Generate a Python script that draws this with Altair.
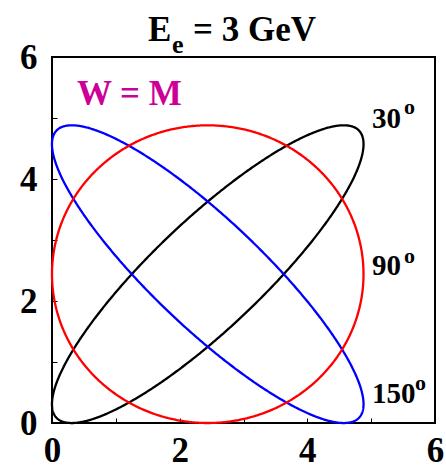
import altair as alt
import numpy as np
import pandas as pd

# Kinematic ellipses, one per angle: centre, semi-axes and tilt (degrees)
curve_names = ["30°", "150°", "90°"]
center_x = [2.44, 2.44, 2.44]
center_y = [2.44, 2.44, 2.44]
semi_major = [3.34, 3.34, 2.44]
semi_minor = [0.87, 0.87, 2.44]
tilt_deg = [45.0, -45.0, 0.0]
line_colors = ["black", "blue", "red"]

# Axis ticks every 0.5, labels on the even values
tick_values = [0, 0.5, 1, 1.5, 2, 2.5, 3, 3.5, 4, 4.5, 5, 5.5, 6]

SERIF = "Liberation Serif"


def ellipse_frame(name, cx, cy, a, b, tilt):
    t = np.linspace(0.0, 2.0 * np.pi, 721)
    th = np.deg2rad(tilt)
    x = cx + a * np.cos(t) * np.cos(th) - b * np.sin(t) * np.sin(th)
    y = cy + a * np.cos(t) * np.sin(th) + b * np.sin(t) * np.cos(th)
    return pd.DataFrame({"curve": name, "k": np.arange(len(t)), "x": x, "y": y})


def make_axis(pad):
    return alt.Axis(
        values=tick_values,
        format="d",
        labelExpr="datum.value % 2 == 0 ? datum.label : ''",
        offset=-5, tickSize=5, tickWidth=1, tickColor="black",
        domain=False, grid=False, title=None,
        labelFont=SERIF, labelFontWeight="bold", labelFontSize=35,
        labelColor="black", labelPadding=pad, labelOverlap=False, labelFlush=False,
    )


layers = []
for i, name in enumerate(curve_names):
    df = ellipse_frame(name, center_x[i], center_y[i], semi_major[i], semi_minor[i], tilt_deg[i])
    layers.append(
        alt.Chart(df)
        .mark_line(strokeWidth=2.3, color=line_colors[i], clip=False)
        .encode(
            x=alt.X("x:Q", scale=alt.Scale(domain=[0, 6], nice=False, zero=False), axis=make_axis(10)),
            y=alt.Y("y:Q", scale=alt.Scale(domain=[0, 6], nice=False, zero=False), axis=make_axis(15)),
            order="k:Q",
        )
    )


def label(text, px, py, size, color="black"):
    return (
        alt.Chart(pd.DataFrame({"txt": [text]}))
        .mark_text(font=SERIF, fontWeight="bold", fontSize=size, color=color,
                   align="left", baseline="alphabetic")
        .encode(text="txt:N", x=alt.value(px), y=alt.value(py))
    )


texts = [
    # title  E_e = 3 GeV
    label("E", 96, -16, 35),
    label("e", 120, -4, 26),
    label("= 3 GeV", 141, -16, 35),
    # W = M
    label("W = M", 25, 48, 35, "#CC0099"),
    # angle labels
    label("30", 320, 71, 29),
    label("o", 352, 57, 22),
    label("90", 320, 218, 29),
    label("o", 352, 206, 22),
    label("150", 320, 346, 29),
    label("o", 363, 333, 22),
]

chart = (
    alt.layer(*layers, *texts)
    .properties(
        width=383,
        height=366,
        autosize=alt.AutoSizeParams(type="none"),
        padding={"left": 52, "top": 57, "right": 11, "bottom": 46},
        background="white",
    )
    .configure_view(stroke="black", strokeWidth=2)
)

chart.save("out.html", embed_options={"renderer": "svg", "actions": False})
